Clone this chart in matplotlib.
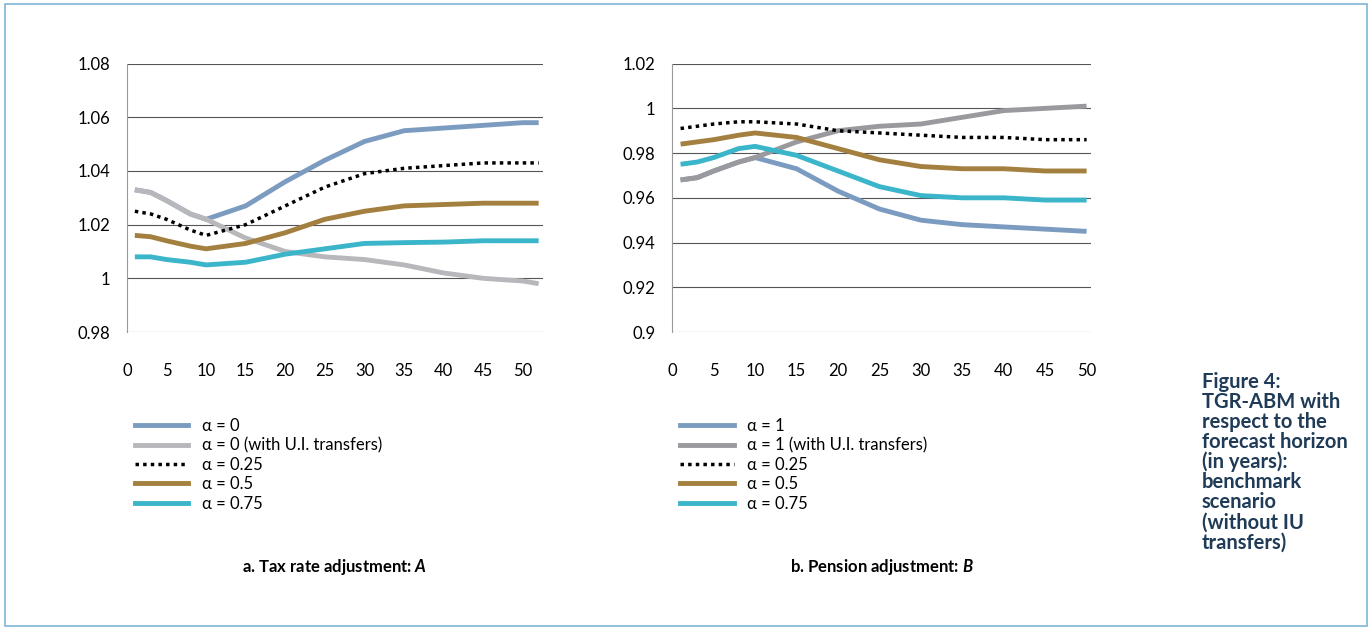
import matplotlib.pyplot as plt
from matplotlib.patches import Rectangle
from matplotlib.lines import Line2D

plt.rcParams['font.family'] = ['Lato', 'DejaVu Sans']
plt.rcParams['mathtext.fontset'] = 'custom'
plt.rcParams['mathtext.it'] = 'Lato:italic:bold'

# x positions (years)
xa = [1, 3, 5, 8, 10, 15, 20, 25, 30, 35, 40, 45, 50, 52]
tax_a0 = [1.033, 1.032, 1.029, 1.024, 1.022, 1.027, 1.036, 1.044, 1.051, 1.055, 1.056, 1.057, 1.058, 1.058]
tax_a0_ui = [1.033, 1.032, 1.029, 1.024, 1.022, 1.015, 1.010, 1.008, 1.007, 1.005, 1.002, 1.000, 0.999, 0.998]
tax_a25 = [1.025, 1.024, 1.022, 1.018, 1.016, 1.020, 1.027, 1.034, 1.039, 1.041, 1.042, 1.043, 1.043, 1.043]
tax_a50 = [1.016, 1.0155, 1.014, 1.012, 1.011, 1.013, 1.017, 1.022, 1.025, 1.027, 1.0275, 1.028, 1.028, 1.028]
tax_a75 = [1.008, 1.008, 1.007, 1.006, 1.005, 1.006, 1.009, 1.011, 1.013, 1.0133, 1.0135, 1.014, 1.014, 1.014]

xb = [1, 3, 5, 8, 10, 15, 20, 25, 30, 35, 40, 45, 50]
pen_a1 = [0.968, 0.969, 0.972, 0.976, 0.978, 0.973, 0.963, 0.955, 0.950, 0.948, 0.947, 0.946, 0.945]
pen_a1_ui = [0.968, 0.969, 0.972, 0.976, 0.978, 0.985, 0.990, 0.992, 0.993, 0.996, 0.999, 1.000, 1.001]
pen_a25 = [0.991, 0.992, 0.993, 0.994, 0.994, 0.993, 0.990, 0.989, 0.988, 0.987, 0.987, 0.986, 0.986]
pen_a50 = [0.984, 0.985, 0.986, 0.988, 0.989, 0.987, 0.982, 0.977, 0.974, 0.973, 0.973, 0.972, 0.972]
pen_a75 = [0.975, 0.976, 0.978, 0.982, 0.983, 0.979, 0.972, 0.965, 0.961, 0.960, 0.960, 0.959, 0.959]

labels_a = ['α = 0', 'α = 0 (with U.I. transfers)', 'α = 0.25', 'α = 0.5', 'α = 0.75']
labels_b = ['α = 1', 'α = 1 (with U.I. transfers)', 'α = 0.25', 'α = 0.5', 'α = 0.75']

c_blue = '#7b9cc0'
c_grey = '#b8b8bc'
c_brown = '#a3803f'
c_cyan = '#3bb5c9'

fig = plt.figure(figsize=(13.72, 6.3), dpi=100)
fig.patches.append(Rectangle((0.004, 0.006), 0.992, 0.988, transform=fig.transFigure,
                             fill=False, edgecolor='#7fb6d6', lw=1.2))


def panel(rect, x, series, labels, ylim, yticks, ytl, xmax, title, legy, grey_col):
    ax = fig.add_axes(rect)
    styles = [dict(color=c_blue, lw=3.5), dict(color=grey_col, lw=3.5),
              dict(color='black', lw=2.5, ls=(0, (1, 1.2))),
              dict(color=c_brown, lw=3.5), dict(color=c_cyan, lw=3.5)]
    for i in range(5):
        ax.plot(x, series[i], solid_capstyle='butt', **styles[i])
    ax.set_ylim(*ylim)
    ax.set_xlim(0, xmax)
    ax.set_yticks(yticks)
    ax.set_yticklabels(ytl)
    ax.set_xticks(range(0, 51, 5))
    ax.yaxis.grid(True, color='#555555', lw=0.8)
    ax.set_axisbelow(True)
    for s in ['top', 'right', 'bottom']:
        ax.spines[s].set_visible(False)
    ax.spines['left'].set_color('#999999')
    ax.tick_params(length=0, labelsize=12, pad=12)
    ax.tick_params(axis='x', pad=22)
    handles = [Line2D([], [], **st) for st in styles]
    fig.legend(handles, labels, loc='upper left', bbox_to_anchor=(rect[0] - 0.005, legy),
               frameon=False, fontsize=12, handlelength=3.2, labelspacing=0.2,
               handletextpad=0.8)
    fig.text(rect[0] + rect[2] / 2, 0.1, title, ha='center', va='center', fontsize=12,
             fontweight='bold')
    return ax


panel([0.0925, 0.473, 0.303, 0.426], xa,
      [tax_a0, tax_a0_ui, tax_a25, tax_a50, tax_a75], labels_a,
      (0.98, 1.08), [0.98, 1.0, 1.02, 1.04, 1.06, 1.08],
      ['0.98', '1', '1.02', '1.04', '1.06', '1.08'], 52.5,
      'a. Tax rate adjustment: $\\mathit{A}$', 0.36, c_grey)
panel([0.49, 0.473, 0.305, 0.426], xb,
      [pen_a1, pen_a1_ui, pen_a25, pen_a50, pen_a75], labels_b,
      (0.9, 1.02), [0.9, 0.92, 0.94, 0.96, 0.98, 1.0, 1.02],
      ['0.9', '0.92', '0.94', '0.96', '0.98', '1', '1.02'], 50.5,
      'b. Pension adjustment: $\\mathit{B}$', 0.36, '#9a9a9e')

fig.text(0.876, 0.41, 'Figure 4:\nTGR-ABM with\nrespect to the\nforecast horizon\n(in years):\nbenchmark\nscenario\n(without IU\ntransfers)',
         ha='left', va='top', fontsize=14.5, fontweight='bold', color='#1f3b57', linespacing=1.0)

fig.savefig('out.png', dpi=100)
